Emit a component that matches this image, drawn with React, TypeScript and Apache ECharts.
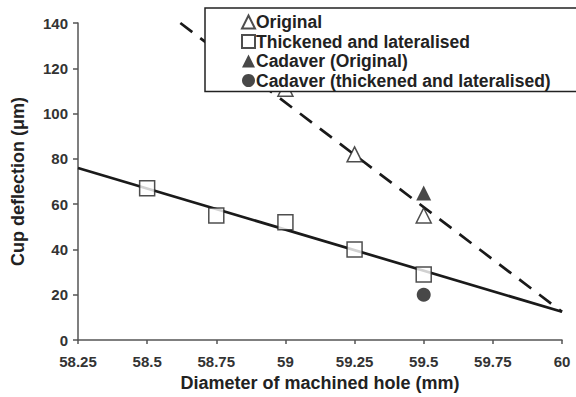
import React, { useEffect, useRef } from "react";
import * as echarts from "echarts";

const xTicks = [58.25, 58.5, 58.75, 59, 59.25, 59.5, 59.75, 60];
const originalPts = [[59, 111], [59.25, 82], [59.5, 55]];
const thickenedPts = [[58.5, 67], [58.75, 55], [59, 52], [59.25, 40], [59.5, 29]];
const cadaverOriginalPts = [[59.5, 65]];
const cadaverThickPts = [[59.5, 20]];
const thickFitLine = [[58.25, 76], [60, 12.5]];
const originalFitLine = [[58.62, 140], [60, 12.5]];
const legendNames = [
  "Original",
  "Thickened and lateralised",
  "Cadaver (Original)",
  "Cadaver (thickened and lateralised)",
];

const FONT = "'Liberation Sans', Arial, sans-serif";
const INK = "#222";

export default function App() {
  const ref = useRef<HTMLDivElement>(null);
  useEffect(() => {
    const chart = echarts.init(ref.current!, null, { renderer: "svg" });
    const hollow = { color: "#fff", borderColor: INK, borderWidth: 1.5 };
    chart.setOption({
      animation: false,
      backgroundColor: "#fff",
      grid: { left: 78, right: 14, top: 23, bottom: 56 },
      xAxis: {
        type: "value",
        min: xTicks[0],
        max: xTicks[xTicks.length - 1],
        interval: 0.25,
        name: "Diameter of machined hole (mm)",
        nameLocation: "middle",
        nameGap: 33,
        nameTextStyle: { fontFamily: FONT, fontWeight: "bold", fontSize: 18, color: INK },
        axisLine: { lineStyle: { color: "#555", width: 1.5 } },
        axisTick: { show: true, length: 4, lineStyle: { color: "#555", width: 1.5 } },
        axisLabel: { fontFamily: FONT, fontWeight: "bold", fontSize: 15, color: "#333", margin: 14 },
        splitLine: { show: false },
      },
      yAxis: {
        type: "value",
        min: 0,
        max: 140,
        interval: 20,
        name: "Cup deflection (μm)",
        nameLocation: "middle",
        nameGap: 51,
        nameTextStyle: { fontFamily: FONT, fontWeight: "bold", fontSize: 18, color: INK },
        axisLine: { show: true, lineStyle: { color: "#555", width: 1.5 } },
        axisTick: { show: true, length: 5, lineStyle: { color: "#555", width: 1.5 } },
        axisLabel: { fontFamily: FONT, fontWeight: "bold", fontSize: 15, color: "#333", margin: 10 },
        splitLine: { show: false },
      },
      legend: {
        data: legendNames,
        orient: "vertical",
        left: 205,
        top: 8,
        padding: [5, 40, 2, 36],
        itemGap: 1.5,
        itemWidth: 13,
        itemHeight: 13,
        backgroundColor: "#fff",
        borderColor: INK,
        borderWidth: 1.5,
        borderRadius: 0,
        z: 10,
        textStyle: { fontFamily: FONT, fontWeight: "bold", fontSize: 17.5, color: INK, padding: [0, 0, 0, -4] },
      },
      series: [
        {
          type: "line",
          name: "fitThick",
          data: thickFitLine,
          symbol: "none",
          lineStyle: { color: "#1a1a1a", width: 2.7 },
          z: 1,
        },
        {
          type: "line",
          name: "fitOriginal",
          data: originalFitLine,
          symbol: "none",
          lineStyle: { color: "#1a1a1a", width: 2.7, type: [15, 10] },
          z: 1,
        },
        {
          type: "scatter",
          name: legendNames[0],
          data: originalPts,
          symbol: "triangle",
          symbolSize: 15,
          itemStyle: hollow,
          z: 3,
        },
        {
          type: "scatter",
          name: legendNames[1],
          data: thickenedPts,
          symbol: "rect",
          symbolSize: 15,
          itemStyle: hollow,
          z: 3,
        },
        {
          type: "scatter",
          name: legendNames[2],
          data: cadaverOriginalPts,
          symbol: "triangle",
          symbolSize: 15,
          itemStyle: { color: "#1a1a1a" },
          z: 3,
        },
        {
          type: "scatter",
          name: legendNames[3],
          data: cadaverThickPts,
          symbol: "circle",
          symbolSize: 14,
          itemStyle: { color: "#1a1a1a" },
          z: 3,
        },
      ],
    });
    return () => chart.dispose();
  }, []);
  return <div ref={ref} style={{ width: 576, height: 397, position: "fixed", left: 0, top: 0 }} />;
}
